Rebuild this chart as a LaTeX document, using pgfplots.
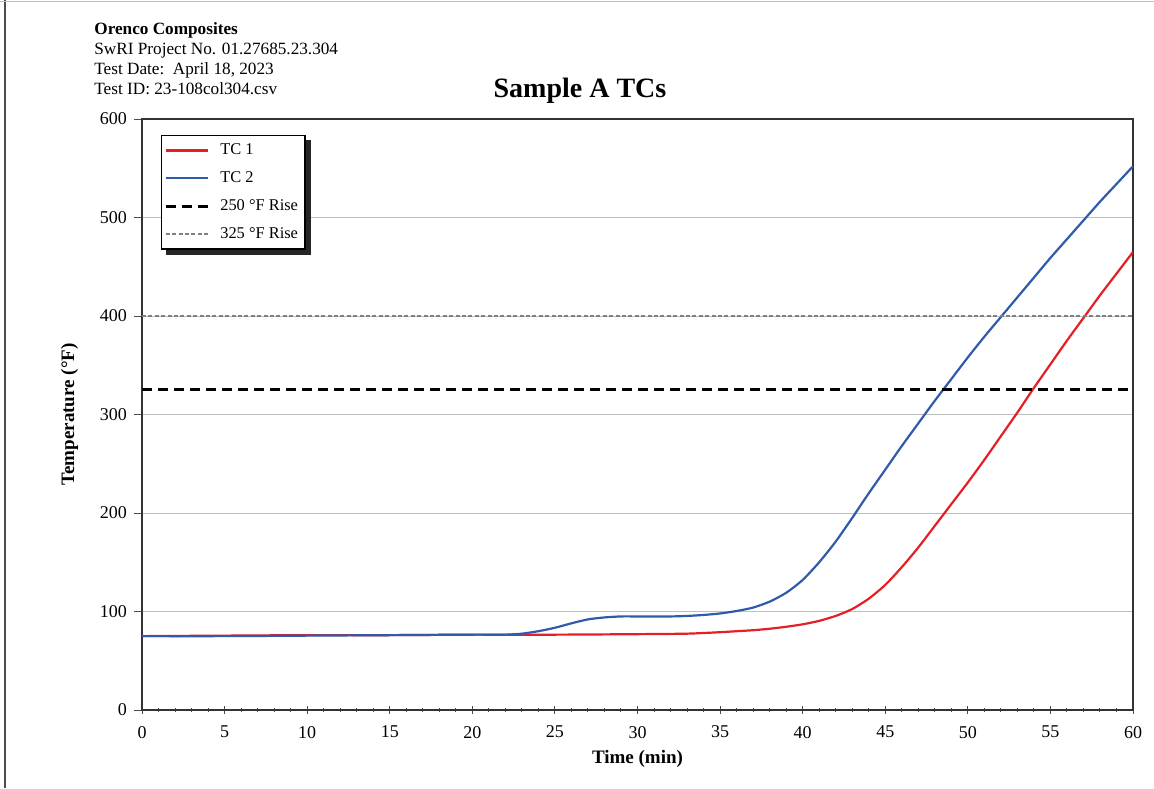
\documentclass[border=0pt]{standalone}
\usepackage{fontspec}
\setmainfont{Liberation Serif}
\usepackage{pgfplots}
\pgfplotsset{compat=1.18}

\definecolor{tcred}{RGB}{228,32,38}
\definecolor{tcblue}{RGB}{48,90,170}
\definecolor{gridgray}{RGB}{190,190,190}

% time (min), temperature (F)
\pgfplotstableread{
t T
0 75
5 75.5
10 76
15 76
20 76.5
25 76.5
30 77
33 77.5
35 79
36 80
37 81
38 82.5
39 84.5
40 87
41 90.5
42 95.5
43 102.5
44 113
45 127
46 145
47 165
48 187
49 209
50 231
51 254
52 278
53 302
54 327
55 351
56 375
57 398
58 421
59 443
60 465
}\tcone

\pgfplotstableread{
t T
0 75
5 75
10 75.5
15 76
20 76.5
22 76.5
23 77.5
24 80
25 83.5
26 88
27 92
28 94
29 95
30 95
32 95
33 95.5
34 96.5
35 98
36 100.5
37 104
38 110
39 119
40 132
41 150
42 171
43 195
44 220
45 244
46 268
47 291
48 314
49 336
50 358
51 379
52 399
53 419
54 439
55 459
56 478
57 497
58 516
59 534
60 552
}\tctwo

\begin{document}
\begin{tikzpicture}
\useasboundingbox (0,0) rectangle (577pt,394pt);
% scanned page border
\draw[black!70, line width=0.6pt] (2.5pt,0) -- (2.5pt,394pt);
\draw[black!25, line width=0.5pt] (0,393pt) -- (577pt,393pt);

% header block
\begin{scope}[every node/.style={anchor=base west, inner sep=0pt, font=\fontsize{8.6}{10}\selectfont}]
\node at (47pt,376.5pt) {\textbf{Orenco Composites}};
\node at (47pt,366.5pt) {SwRI Project No. 01.27685.23.304};
\node at (47pt,356.5pt) {Test Date:\ \ April 18, 2023};
\node at (47pt,346.5pt) {Test ID: 23-108col304.csv};
\end{scope}
\node[anchor=base, inner sep=0pt, font=\fontsize{14}{16}\selectfont\bfseries] at (290pt,345pt) {Sample A TCs};

\begin{axis}[
    at={(71pt,39pt)}, anchor=south west,
    scale only axis,
    width=495.5pt, height=295.5pt,
    xmin=0, xmax=60, ymin=0, ymax=600,
    xtick={0,5,...,60},
    ytick={0,100,...,600},
    minor x tick num=4,
    xtick pos=bottom, ytick pos=left,
    xtick align=center, ytick align=outside,
    major tick length=4pt, minor tick length=2pt,
    tick style={black!70, line width=0.5pt},
    axis line style={black!80, line width=0.8pt},
    ymajorgrids,
    major grid style={gridgray, line width=0.5pt},
    /pgf/number format/assume math mode=true,
    ticklabel style={font=\fontsize{9}{10}\selectfont},
    xticklabel style={yshift=-2.5pt},
    xlabel={Time (min)},
    ylabel={Temperature (°F)},
    label style={font=\fontsize{9.5}{11}\selectfont\bfseries},
    xlabel style={yshift=1pt},
    ylabel style={yshift=4pt},
    legend cell align=left,
    legend style={
        name=leg,
        at={(0.019,0.973)}, anchor=north west,
        draw=black, line width=0.6pt, fill=white,
        font=\fontsize{8.2}{10}\selectfont,
        row sep=3pt, column sep=3.5pt, inner xsep=1.5pt, inner ysep=2pt,
    },
    legend image code/.code={\draw[#1] (0cm,0cm) -- (0.74cm,0cm);},
]
\addplot[tcred, line width=1.1pt, smooth, tension=0.4] table[x=t, y=T] {\tcone};
\addplot[tcblue, line width=1.1pt, smooth, tension=0.4] table[x=t, y=T] {\tctwo};
\addplot[black, line width=1.4pt, dash pattern=on 5pt off 3pt] coordinates {(0,325) (60,325)};
\addplot[black!50, line width=0.9pt, dash pattern=on 2pt off 1.2pt] coordinates {(0,400) (60,400)};
\legend{TC 1, TC 2, 250 °F Rise, 325 °F Rise}
\end{axis}
% legend drop shadow
\fill[black!85] ([yshift=-2.5pt]leg.north east) rectangle ([xshift=2.5pt,yshift=-2.5pt]leg.south east);
\fill[black!85] ([xshift=2.5pt]leg.south west) rectangle ([xshift=2.5pt,yshift=-2.5pt]leg.south east);
\end{tikzpicture}
\end{document}
